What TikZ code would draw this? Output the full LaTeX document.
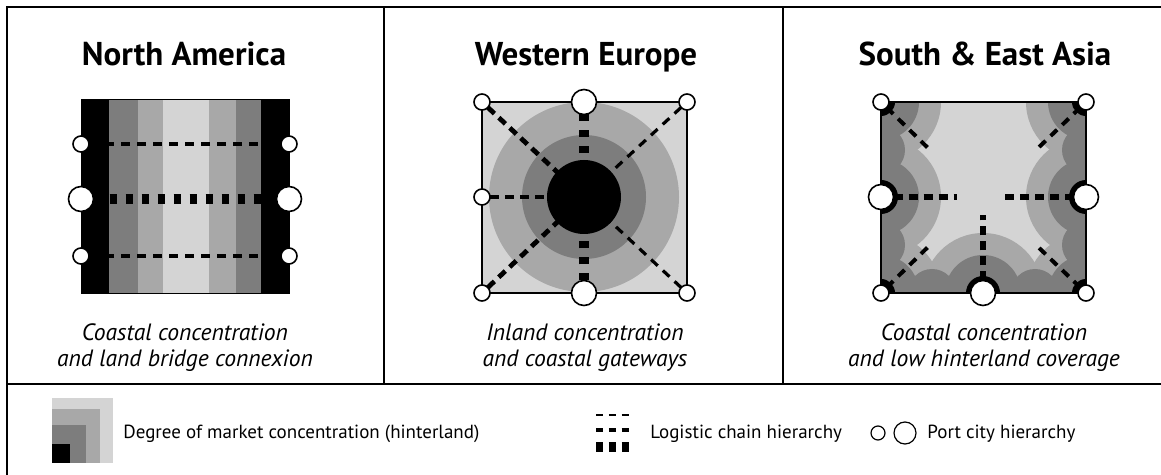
\documentclass[tikz,border=0pt]{standalone}
\usepackage{fontspec}
\setmainfont{PT Sans}
\definecolor{lgray}{gray}{0.83}
\definecolor{mgray}{gray}{0.66}
\definecolor{dgray}{gray}{0.49}
\pgfdeclarelayer{front}
\pgfsetlayers{main,front}
\begin{document}
\begin{tikzpicture}[x=0.5pt, y=-0.5pt,
    sport/.style={circle, draw, fill=white, line width=0.8pt,
              minimum size=8pt, inner sep=0pt, outer sep=0pt},
    lport/.style={sport, minimum size=12.5pt},
    title/.style={anchor=base, inner sep=0pt, font=\fontsize{16.5}{18}\selectfont\bfseries},
    caption/.style={anchor=base, inner sep=0pt, font=\fontsize{11.8}{13}\selectfont\itshape},
    legtext/.style={anchor=base west, inner sep=0pt, font=\fontsize{9.5}{11}\selectfont},
    dthin/.style={line width=1.6pt, dash pattern=on 4.5pt off 3.5pt},
    dmed/.style={line width=2.4pt, dash pattern=on 4.5pt off 3pt},
    dthick/.style={line width=5pt, dash pattern=on 3.5pt off 4.5pt}]
    \useasboundingbox (0,0) rectangle (1161,475);
    % frame
    \draw[line width=1.3pt] (7,475) -- (7,7) -- (1161,7);
    \draw[line width=1pt] (7,384) -- (1161,384);
    \draw[line width=1pt] (384,7) -- (384,384) (783,7) -- (783,384);
    % titles and captions
    \node[title] (tna) at (184,66) {North America};
    \node[title] (twe) at (586,66) {Western Europe};
    \node[title] (tsa) at (985,66) {South \& East Asia};
    \node[caption] (na1) at (185,341) {Coastal concentration};
    \node[caption] (na2) at (185,366) {and land bridge connexion};
    \node[caption] (we1) at (585,341) {Inland concentration};
    \node[caption] (we2) at (585,366) {and coastal gateways};
    \node[caption] (sa1) at (984,341) {Coastal concentration};
    \node[caption] (sa2) at (984,366) {and low hinterland coverage};

    % North America
    \foreach \xa/\xb/\c in {81/109/black, 109/138/dgray, 138/163/mgray,
        163/209/lgray, 209/236/mgray, 236/261/dgray, 261/289/black}
        \fill[\c] (\xa,100) rectangle (\xb,294);
    \draw[line width=0.5pt] (81,100) rectangle (289,294);
    \begin{pgfonlayer}{front}
        \node[sport] (nal1) at (81,144) {};
        \node[lport] (nal2) at (81,199) {};
        \node[sport] (nal3) at (81,256) {};
        \node[sport] (nar1) at (289,144) {};
        \node[lport] (nar2) at (289,199) {};
        \node[sport] (nar3) at (289,256) {};
    \end{pgfonlayer}
    \draw[dthin] (nal1) -- (nar1);
    \draw[dthick] (nal2) -- (nar2);
    \draw[dthin] (nal3) -- (nar3);

    % Western Europe
    \fill[lgray] (482,102) rectangle (687,293);
    \fill[mgray] (584,197) circle (95);
    \fill[dgray] (584,197) circle (62);
    \fill[black] (584,197) circle (37);
    \draw[line width=1pt] (482,102) rectangle (687,293);
    \coordinate (weC) at (584,197);
    \begin{pgfonlayer}{front}
        \node[sport] (wep1) at (482,102) {};
        \node[lport] (wep2) at (584,102) {};
        \node[sport] (wep3) at (687,102) {};
        \node[sport] (wep4) at (482,197) {};
        \node[sport] (wep5) at (482,293) {};
        \node[lport] (wep6) at (584,293) {};
        \node[sport] (wep7) at (687,293) {};
    \end{pgfonlayer}
    \draw[dmed] (wep1) -- (weC);
    \draw[dthin] (wep3) -- (weC);
    \draw[dmed] (wep5) -- (weC);
    \draw[dthin] (wep7) -- (weC);
    \draw[dmed, line width=2pt] (wep4) -- (weC);
    \draw[dthick] (wep2) -- (weC);
    \draw[dthick] (wep6) -- (weC);

    % South & East Asia
    \begin{scope}
        \clip (881,102) rectangle (1086,293);
        \fill[lgray] (881,102) rectangle (1086,293);
        \foreach \p in {(881,102), (1086,102), (881,197), (1086,197),
            (881,293), (983,293), (1086,293)}
            \fill[mgray] \p circle (60);
        \foreach \p in {(881,102), (1086,102), (881,197), (1086,197),
            (881,293), (983,293), (1086,293)}
            \fill[dgray] \p circle (38);
        \foreach \p in {(881,150), (881,245), (1086,150), (1086,245),
            (932,293), (1035,293)}
            \fill[dgray] \p circle (24);
        \foreach \p/\r in {(881,102)/14, (1086,102)/14, (881,197)/17, (1086,197)/17,
            (881,293)/14, (983,293)/17, (1086,293)/14}
            \fill[black] \p circle (\r);
    \end{scope}
    \draw[line width=1pt] (881,102) rectangle (1086,293);
    \coordinate (saL) at (957,197);
    \coordinate (saR) at (1003,197);
    \coordinate (saB) at (983,215);
    \coordinate (saTL) at (930,150);
    \coordinate (saTR) at (1036,150);
    \coordinate (saBL) at (930,245);
    \coordinate (saBR) at (1036,245);
    \begin{pgfonlayer}{front}
        \node[sport] (sap1) at (881,102) {};
        \node[sport] (sap2) at (1086,102) {};
        \node[lport] (sap3) at (881,197) {};
        \node[lport] (sap4) at (1086,197) {};
        \node[sport] (sap5) at (881,293) {};
        \node[lport] (sap6) at (983,293) {};
        \node[sport] (sap7) at (1086,293) {};
    \end{pgfonlayer}
    \draw[dmed, line width=3pt] (sap3) -- (saL);
    \draw[dmed, line width=3pt] (sap4) -- (saR);
    \draw[dmed, line width=2.8pt] (sap6) -- (saB);
    \draw[dthin, line width=2pt] (sap1) -- (saTL);
    \draw[dthin, line width=2pt] (sap2) -- (saTR);
    \draw[dthin, line width=2pt] (sap5) -- (saBL);
    \draw[dthin, line width=2pt] (sap7) -- (saBR);

    % legend
    \fill[lgray] (52,398) rectangle (113,463);
    \fill[mgray] (52,409) rectangle (100,463);
    \fill[dgray] (52,425) rectangle (86,463);
    \fill[black] (52,444) rectangle (70,463);
    \node[legtext] (lgm) at (123,438) {Degree of market concentration (hinterland)};
    \coordinate (lgd1a) at (596,415); \coordinate (lgd1b) at (632,415);
    \coordinate (lgd2a) at (596,430); \coordinate (lgd2b) at (632,430);
    \coordinate (lgd3a) at (596,447); \coordinate (lgd3b) at (632,447);
    \draw[line width=1pt, dash pattern=on 3.6pt off 2.8pt] (lgd1a) -- (lgd1b);
    \draw[line width=2pt, dash pattern=on 3.6pt off 2.8pt] (lgd2a) -- (lgd2b);
    \draw[line width=5pt, dash pattern=on 3.6pt off 2.8pt] (lgd3a) -- (lgd3b);
    \node[legtext] (lgl) at (650,438) {Logistic chain hierarchy};
    \node[sport, line width=0.6pt, minimum size=7pt] (lgs) at (878,433) {};
    \node[sport, line width=0.6pt, minimum size=11pt] (lgb) at (905,433) {};
    \node[legtext] (lgp) at (927,438) {Port city hierarchy};
\end{tikzpicture}
\end{document}
